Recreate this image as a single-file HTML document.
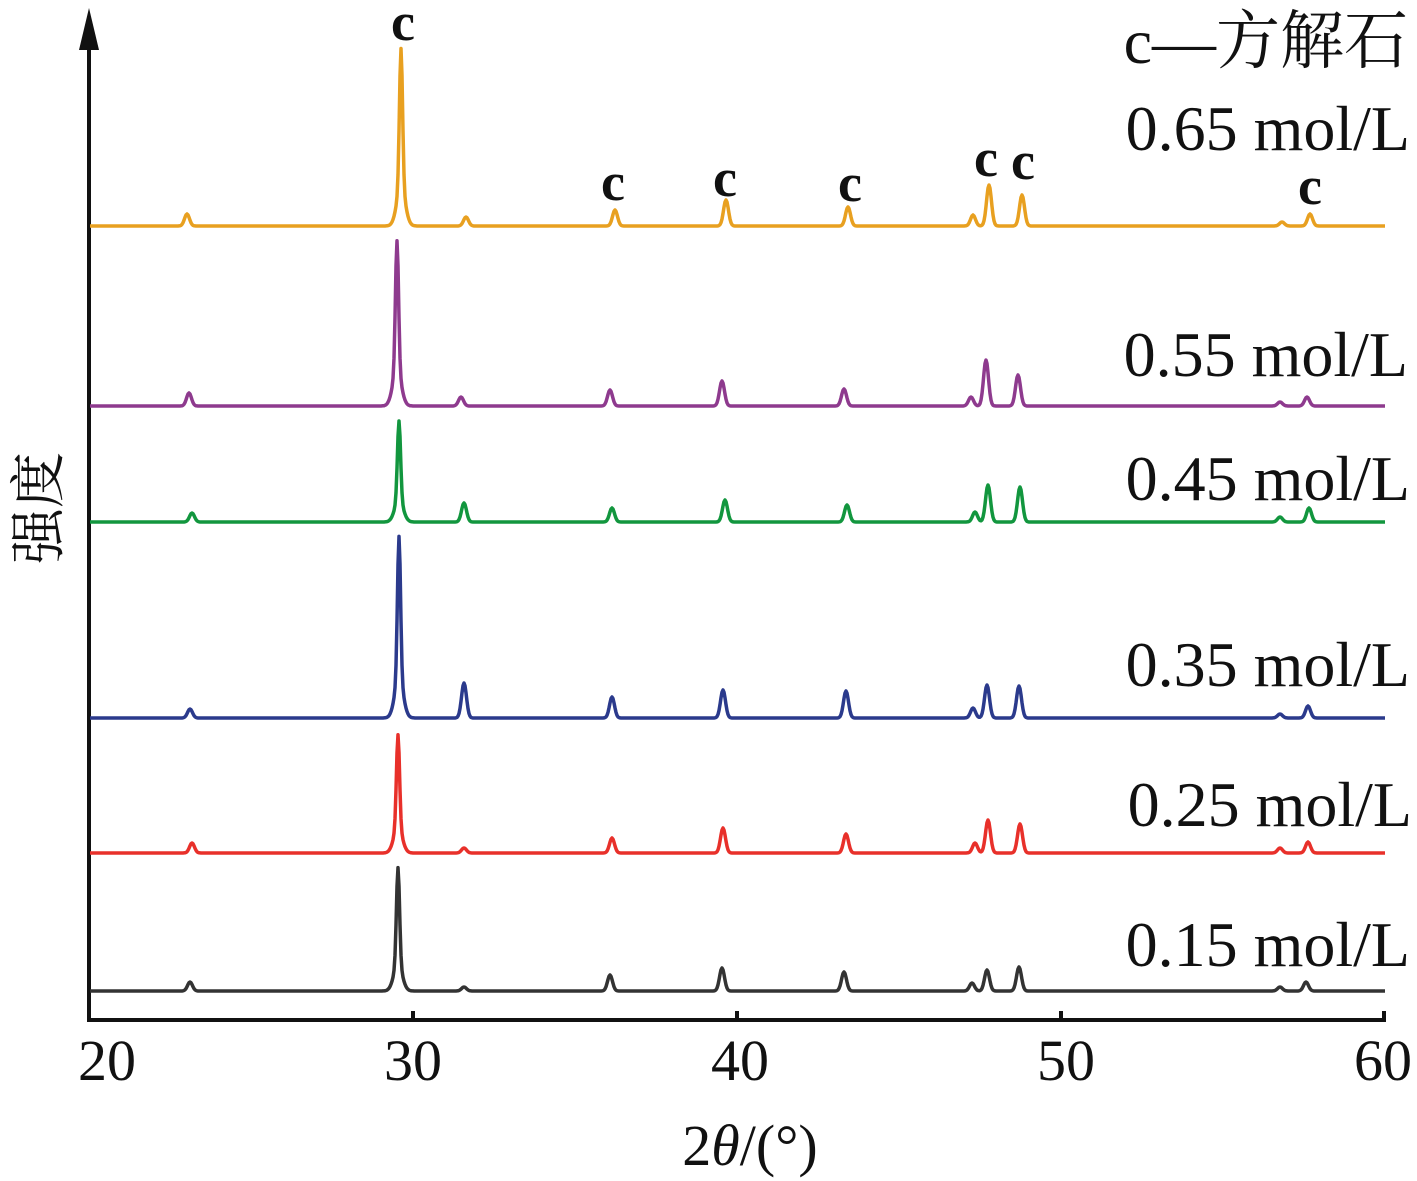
<!DOCTYPE html>
<html><head><meta charset="utf-8"><style>
html,body{margin:0;padding:0;background:#fff}
svg{display:block}
text{font-family:"Liberation Serif","Noto Serif CJK SC",serif;fill:#111}
</style></head><body>
<svg id="s" width="1417" height="1181" viewBox="0 0 1417 1181" xmlns="http://www.w3.org/2000/svg">
<line x1="89" y1="1020" x2="1386" y2="1020" stroke="#111" stroke-width="4"/>
<line x1="89" y1="1022" x2="89" y2="40" stroke="#111" stroke-width="4"/>
<polygon points="89,8 79,50 99,50" fill="#111"/>
<g stroke="#111" stroke-width="4">
<line x1="413" y1="1020" x2="413" y2="1011"/><line x1="737" y1="1020" x2="737" y2="1011"/>
<line x1="1061" y1="1020" x2="1061" y2="1011"/><line x1="1384" y1="1020" x2="1384" y2="1011"/>
</g>
<g font-size="58" text-anchor="middle">
<text x="107" y="1080">20</text><text x="413" y="1080">30</text><text x="740" y="1080">40</text><text x="1066" y="1080">50</text><text x="1383" y="1080">60</text>
</g>
<text x="750" y="1165" font-size="58" text-anchor="middle">2<tspan font-style="italic">θ</tspan>/(°)</text>
<text transform="translate(58,508) rotate(-90)" font-size="56" text-anchor="middle">强度</text>
<g font-size="64" text-anchor="end">
<text x="1408" y="63">c—方解石</text>
<text x="1410" y="150">0.65 mol/L</text>
<text x="1408" y="376">0.55 mol/L</text>
<text x="1410" y="500">0.45 mol/L</text>
<text x="1410" y="686">0.35 mol/L</text>
<text x="1412" y="826">0.25 mol/L</text>
<text x="1410" y="966">0.15 mol/L</text>
</g>
<g font-size="54" font-weight="bold" text-anchor="middle">
<text x="403" y="40">c</text><text x="613" y="200">c</text><text x="725" y="196">c</text><text x="850" y="201">c</text><text x="986" y="176">c</text><text x="1023" y="179">c</text><text x="1310" y="204">c</text>
</g>
<g id="g" fill="none" stroke-width="3.5" stroke-linejoin="round"></g>
</svg>
<script>
var S=[
["#e8a020",226,52,[[187,214],[466,217],[615,210],[726,200],[848,207],[973,215],[989,185],[1022,195],[1282,222],[1310,214]],401],
["#8e3a8e",406,244,[[189,393],[461,397],[610,390],[722,381],[844,389],[971,397],[986,360],[1018,375],[1280,402],[1307,397]],397],
["#12963e",522,423,[[192,513],[464,503],[612,508],[725,500],[847,505],[975,512],[988,485],[1020,487],[1280,517],[1309,508]],399],
["#2b3a8c",718,540,[[190,709],[464,683],[612,697],[723,690],[846,691],[973,708],[987,685],[1019,686],[1280,714],[1308,706]],399],
["#e8302a",853,737,[[192,843],[464,848],[612,838],[723,828],[846,834],[975,843],[988,820],[1020,824],[1280,848],[1308,842]],398],
["#333333",991,870,[[190,982],[464,987],[610,975],[722,968],[844,972],[972,983],[987,970],[1019,967],[1280,987],[1306,982]],398]];
var g=document.getElementById('g'),h='';
S.forEach(function(s){
 var b=s[1],d='';
 for(var x=90;x<=1385;x++){
  var y=0,m=b-s[2];
  y+=m*0.8*Math.exp(-Math.pow((x-s[4])/2.2,2));
  y+=m*0.22*Math.exp(-Math.pow((x-s[4])/6,2));
  s[3].forEach(function(p){y+=(b-p[1])*Math.exp(-Math.pow((x-p[0])/3.5,2));});
  d+=(x==90?'M':'L')+x+' '+(b-y).toFixed(1);
 }
 h+='<path stroke="'+s[0]+'" d="'+d+'"/>';
});
g.innerHTML=h;
</script>
</body></html>
